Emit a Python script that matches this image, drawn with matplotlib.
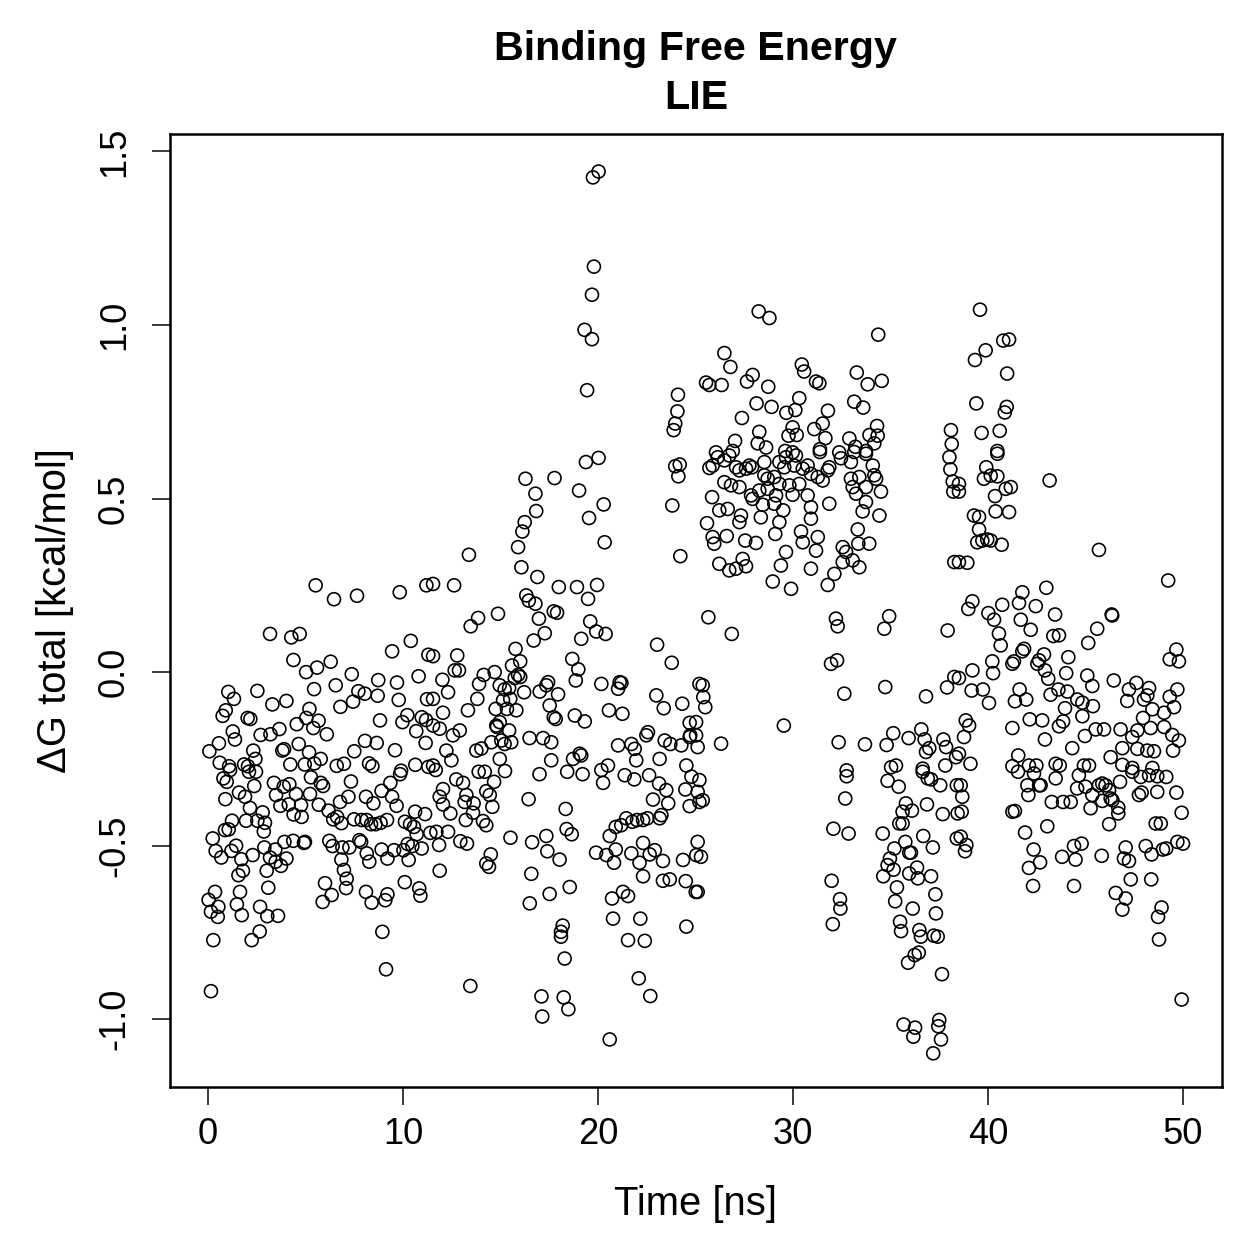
import matplotlib.pyplot as plt
import numpy as np

plt.rcParams["font.family"] = ["Liberation Sans", "DejaVu Sans"]

# (time [ns], dG total [kcal/mol]), grouped by time window
pts_0_12 = [
    (5.52, 0.25), (6.46, 0.21), (7.64, 0.22), (9.83, 0.23), (11.2, 0.25), (3.18, 0.11), (4.27, 0.10),
    (4.7, 0.11), (10.4, 0.09), (9.44, 0.06), (11.3, 0.05), (4.38, 0.035), (5.03, 0.0), (5.59, 0.013),
    (6.29, 0.03), (7.37, -0.006), (8.73, -0.023), (9.69, -0.03), (10.8, -0.012), (1.04, -0.057),
    (1.33, -0.077), (2.53, -0.054), (5.44, -0.049), (6.55, -0.038), (3.3, -0.093), (4.02, -0.083),
    (0.91, -0.11), (0.75, -0.126), (2.03, -0.132), (2.17, -0.135), (5.2, -0.106), (5.04, -0.132),
    (5.67, -0.14), (5.4, -0.161), (6.79, -0.10), (7.44, -0.085), (7.71, -0.055), (8.04, -0.062),
    (8.7, -0.068), (9.78, -0.08), (8.82, -0.139), (11.23, -0.078), (1.27, -0.171), (1.38, -0.194),
    (0.56, -0.205), (0.07, -0.228), (2.7, -0.181), (3.2, -0.179), (3.66, -0.164), (4.55, -0.15),
    (6.09, -0.179), (4.65, -0.207), (5.18, -0.231), (5.78, -0.25), (5.45, -0.263), (3.81, -0.226),
    (3.9, -0.222), (2.32, -0.226), (2.43, -0.25), (0.6, -0.261), (1.08, -0.271), (1.85, -0.266),
    (2.05, -0.271), (4.22, -0.266), (4.96, -0.266), (7.5, -0.228), (8.05, -0.198), (8.65, -0.204),
    (9.59, -0.225), (9.97, -0.144), (10.22, -0.124), (10.96, -0.13), (11.18, -0.138), (10.68, -0.17),
    (11.16, -0.204), (6.6, -0.27), (6.97, -0.264), (8.26, -0.263), (8.43, -0.271), (9.9, -0.284),
    (10.63, -0.267), (11.3, -0.273),
    (0.79, -0.306), (0.96, -0.316), (1.13, -0.282), (2.1, -0.287), (2.46, -0.287), (2.37, -0.328),
    (0.89, -0.366), (1.59, -0.347), (1.9, -0.359), (2.15, -0.391), (2.8, -0.404), (1.23, -0.428),
    (1.95, -0.428), (0.87, -0.455), (1.06, -0.453), (2.53, -0.428), (2.92, -0.434), (2.86, -0.459),
    (0.24, -0.479), (0.39, -0.515), (0.68, -0.534), (1.2, -0.515), (1.44, -0.5), (1.71, -0.539),
    (2.29, -0.527), (1.56, -0.585), (1.79, -0.572), (0.36, -0.633), (0.03, -0.656), (0.15, -0.69),
    (0.53, -0.676), (0.5, -0.705), (1.64, -0.633), (1.48, -0.669), (1.73, -0.7), (0.27, -0.772),
    (0.15, -0.919), (2.65, -0.747), (2.24, -0.772), (2.67, -0.676), (3.04, -0.703), (3.59, -0.702),
    (3.09, -0.621), (2.89, -0.505), (3.18, -0.534), (3.47, -0.546), (3.01, -0.572), (4.02, -0.537),
    (3.74, -0.558), (3.45, -0.511), (3.92, -0.489), (4.37, -0.486), (4.92, -0.492), (4.97, -0.489),
    (3.38, -0.319), (3.88, -0.33), (4.17, -0.323), (3.49, -0.354), (3.71, -0.385), (4.14, -0.381),
    (4.51, -0.351), (4.77, -0.383), (4.39, -0.41), (4.8, -0.417), (5.28, -0.303), (5.78, -0.319),
    (5.9, -0.328), (5.23, -0.351), (5.68, -0.382), (6.18, -0.399), (6.62, -0.417), (6.84, -0.435),
    (6.42, -0.424), (6.77, -0.374), (7.2, -0.359), (7.33, -0.315), (6.22, -0.486), (6.39, -0.501),
    (6.89, -0.505), (7.25, -0.505), (6.84, -0.54), (6.97, -0.57), (7.11, -0.595), (7.08, -0.622),
    (6.0, -0.608), (6.34, -0.642), (5.88, -0.662), (7.76, -0.484), (7.85, -0.489), (7.49, -0.424),
    (7.88, -0.426), (8.13, -0.426), (8.36, -0.438), (8.59, -0.438), (8.85, -0.434), (9.18, -0.426),
    (8.1, -0.359), (8.48, -0.378), (8.9, -0.342), (9.44, -0.359), (9.67, -0.385), (9.35, -0.319),
    (9.85, -0.294), (8.14, -0.522), (8.27, -0.546), (8.9, -0.511), (9.2, -0.537), (9.54, -0.513),
    (10.02, -0.513), (10.29, -0.541), (8.1, -0.633), (8.39, -0.664), (9.09, -0.657), (9.2, -0.64),
    (8.94, -0.748), (9.13, -0.856), (10.09, -0.605), (10.83, -0.623), (10.89, -0.644), (10.1, -0.431),
    (10.36, -0.438), (10.62, -0.402), (10.56, -0.446), (10.7, -0.467), (11.13, -0.409), (10.24, -0.495),
    (10.48, -0.501), (10.96, -0.508), (11.4, -0.463),
]

pts_12_25 = [
    (19.38, 0.605), (20.03, 0.617), (23.96, 0.593), (24.19, 0.598), (24.12, 0.564), (23.81, 0.48),
    (24.22, 0.334), (16.28, 0.557), (17.77, 0.559), (16.79, 0.514), (16.83, 0.464), (16.24, 0.432),
    (16.12, 0.405), (15.9, 0.36), (16.07, 0.302), (16.89, 0.274), (19.03, 0.523), (19.54, 0.444),
    (20.29, 0.483), (20.34, 0.374), (13.38, 0.338), (11.54, 0.254), (12.62, 0.25), (17.99, 0.245),
    (18.92, 0.245), (19.95, 0.251), (19.49, 0.211), (16.32, 0.221), (16.45, 0.206), (16.79, 0.197),
    (17.73, 0.175), (17.9, 0.171), (16.97, 0.154), (17.27, 0.112), (16.7, 0.091), (19.6, 0.146),
    (19.91, 0.117), (20.39, 0.11), (19.14, 0.096), (14.87, 0.168), (13.85, 0.156), (13.47, 0.132),
    (23.03, 0.079), (23.78, 0.027), (15.77, 0.067), (16.01, 0.031), (15.59, 0.019), (15.9, -0.008),
    (15.73, -0.017), (16.01, -0.014), (16.21, -0.058), (11.54, 0.046), (12.78, 0.048), (12.65, 0.005),
    (12.87, 0.005), (12.02, -0.022), (12.31, -0.058), (12.05, -0.117), (11.54, -0.077), (14.14, -0.008),
    (14.7, 0.0), (13.9, -0.034), (13.81, -0.077), (13.33, -0.11), (14.96, -0.038), (15.21, -0.05),
    (15.44, -0.046), (15.5, -0.077), (15.13, -0.081), (14.75, -0.106), (15.33, -0.106), (15.81, -0.11),
    (14.96, -0.144), (14.82, -0.158), (15.44, -0.168), (17.44, -0.029), (17.35, -0.038), (17.01, -0.056),
    (17.95, -0.064), (17.52, -0.096), (17.73, -0.13), (17.83, -0.135), (18.68, 0.038), (18.99, 0.008),
    (18.86, -0.024), (20.17, -0.034), (21.11, -0.029), (21.03, -0.048), (21.2, -0.031), (18.81, -0.125),
    (19.32, -0.142), (20.56, -0.11), (21.25, -0.12), (22.99, -0.067), (23.37, -0.104), (24.32, -0.091),
    (24.7, -0.146), (24.73, -0.182), (11.54, -0.154), (11.88, -0.163), (12.56, -0.182), (12.91, -0.168),
    (12.22, -0.226), (12.48, -0.254), (11.54, -0.269), (14.53, -0.202), (14.78, -0.154), (15.04, -0.197),
    (15.21, -0.207), (15.55, -0.202), (16.49, -0.19), (17.18, -0.19), (17.6, -0.202), (17.6, -0.254),
    (14.96, -0.25), (13.76, -0.226), (14.02, -0.22), (18.72, -0.25), (19.06, -0.235), (19.14, -0.24),
    (20.51, -0.269), (21.03, -0.211), (21.71, -0.207), (21.88, -0.221), (21.96, -0.254), (22.48, -0.182),
    (22.56, -0.173), (23.16, -0.25), (23.42, -0.197), (23.71, -0.207), (24.27, -0.211), (24.7, -0.187),
    (24.53, -0.269),
    (20.03, 1.442), (19.74, 1.425), (19.79, 1.168), (19.69, 1.087), (19.31, 0.986), (19.69, 0.959),
    (19.44, 0.812), (24.1, 0.799), (24.07, 0.751), (23.96, 0.716), (23.88, 0.697),
    (11.68, -0.282), (12.73, -0.309), (13.08, -0.319), (13.88, -0.287), (14.19, -0.287), (15.23, -0.285),
    (17.0, -0.294), (18.42, -0.287), (19.21, -0.294), (20.17, -0.282), (12.05, -0.337), (11.88, -0.359),
    (12.05, -0.381), (12.43, -0.407), (11.71, -0.46), (12.31, -0.46), (11.85, -0.498), (12.94, -0.487),
    (13.28, -0.494), (11.88, -0.572), (13.25, -0.354), (13.62, -0.378), (13.16, -0.374), (13.59, -0.405),
    (13.22, -0.426), (14.27, -0.343), (14.45, -0.354), (14.67, -0.316), (14.58, -0.388), (14.1, -0.429),
    (14.27, -0.441), (14.5, -0.525), (14.27, -0.551), (14.41, -0.561), (15.51, -0.477), (16.44, -0.366),
    (16.62, -0.49), (16.58, -0.581), (16.5, -0.666), (13.45, -0.904), (17.35, -0.472), (17.4, -0.516),
    (18.03, -0.54), (17.52, -0.639), (18.55, -0.619), (18.34, -0.394), (18.39, -0.452), (18.65, -0.467),
    (18.19, -0.73), (18.1, -0.748), (18.1, -0.762), (18.29, -0.825), (17.1, -0.934), (17.14, -0.992),
    (18.24, -0.937), (18.48, -0.971), (20.6, -1.058), (19.9, -0.52), (20.43, -0.527), (20.6, -0.472),
    (20.91, -0.511), (20.82, -0.549), (20.91, -0.446), (21.19, -0.441), (21.45, -0.421), (21.76, -0.431),
    (22.0, -0.426), (22.31, -0.426), (22.53, -0.421), (20.72, -0.652), (20.77, -0.71), (21.28, -0.633),
    (21.54, -0.645), (22.17, -0.71), (21.54, -0.772), (22.4, -0.774), (22.09, -0.882), (22.68, -0.933),
    (21.71, -0.522), (22.13, -0.549), (22.31, -0.492), (22.65, -0.525), (22.91, -0.513), (23.33, -0.544),
    (22.31, -0.588), (23.33, -0.601), (23.68, -0.597), (24.5, -0.602), (25.01, -0.633), (24.53, -0.733),
    (20.26, -0.319), (21.37, -0.297), (21.86, -0.309), (22.62, -0.297), (23.13, -0.321), (23.5, -0.34),
    (22.82, -0.367), (23.6, -0.378), (23.25, -0.412), (23.16, -0.421), (24.48, -0.338), (24.7, -0.386),
    (24.79, -0.301), (24.36, -0.541), (25.04, -0.527),
]

pts_25_38 = [
    (28.24, 1.039), (28.79, 1.02), (34.37, 0.972), (26.48, 0.919), (26.79, 0.879), (25.54, 0.834),
    (25.71, 0.827), (26.34, 0.827), (27.64, 0.837), (27.93, 0.856), (28.73, 0.822), (30.45, 0.886),
    (30.57, 0.866), (31.18, 0.837), (31.35, 0.832), (33.27, 0.863), (33.83, 0.829), (34.55, 0.839),
    (28.13, 0.774), (28.9, 0.764), (27.38, 0.732), (29.66, 0.747), (30.12, 0.755), (30.32, 0.789),
    (31.79, 0.753), (33.14, 0.779), (33.6, 0.762), (28.27, 0.692), (28.19, 0.659), (28.62, 0.647),
    (27.03, 0.666), (26.91, 0.637), (26.05, 0.633), (29.77, 0.681), (30.19, 0.683), (29.98, 0.705),
    (31.09, 0.7), (31.52, 0.716), (31.66, 0.674), (31.38, 0.642), (32.89, 0.673), (33.2, 0.649),
    (33.92, 0.683), (34.31, 0.709), (34.34, 0.681), (34.17, 0.659), (29.6, 0.637), (29.98, 0.633),
    (32.37, 0.633), (33.74, 0.637),
    (25.71, 0.588), (25.88, 0.595), (26.14, 0.619), (26.48, 0.61), (26.73, 0.624), (27.08, 0.59),
    (27.25, 0.581), (27.59, 0.586), (27.76, 0.595), (27.9, 0.59), (28.53, 0.605), (28.53, 0.567),
    (28.7, 0.557), (29.04, 0.562), (29.3, 0.605), (29.55, 0.59), (29.64, 0.619), (30.07, 0.595),
    (30.15, 0.624), (30.5, 0.586), (30.75, 0.595), (30.92, 0.571), (31.27, 0.562), (31.52, 0.552),
    (31.78, 0.581), (31.86, 0.59), (31.38, 0.634), (32.46, 0.616), (32.97, 0.605), (33.14, 0.634),
    (33.74, 0.629), (34.09, 0.595), (34.17, 0.567), (34.26, 0.557), (33.74, 0.533), (33.4, 0.562),
    (32.97, 0.557), (33.06, 0.533), (33.23, 0.514), (34.51, 0.52), (33.74, 0.49), (33.57, 0.463),
    (34.43, 0.451), (33.32, 0.411), (33.91, 0.37), (33.35, 0.37), (32.55, 0.36), (32.72, 0.346),
    (33.06, 0.322), (33.4, 0.302), (32.55, 0.317), (32.12, 0.283), (31.78, 0.251), (30.92, 0.298),
    (31.18, 0.35), (31.27, 0.389), (30.5, 0.374), (30.41, 0.405), (30.92, 0.442), (30.92, 0.475),
    (30.75, 0.509), (29.98, 0.511), (30.32, 0.542), (29.81, 0.538), (29.3, 0.542), (29.13, 0.509),
    (29.04, 0.485), (29.5, 0.466), (29.3, 0.432), (29.09, 0.398), (29.64, 0.346), (29.38, 0.307),
    (28.96, 0.261), (29.9, 0.24), (28.35, 0.446), (28.45, 0.482), (27.93, 0.499), (27.85, 0.509),
    (28.7, 0.528), (28.27, 0.523), (27.33, 0.451), (27.25, 0.432), (26.65, 0.47), (26.22, 0.466),
    (25.85, 0.504), (25.59, 0.429), (25.88, 0.389), (25.96, 0.37), (26.6, 0.392), (27.55, 0.379),
    (28.1, 0.372), (27.42, 0.326), (27.59, 0.305), (27.08, 0.298), (26.73, 0.293), (26.22, 0.312),
    (26.48, 0.547), (26.82, 0.538), (27.25, 0.533), (31.86, 0.485),
    (25.66, 0.158), (26.86, 0.11), (32.2, 0.154), (32.29, 0.132), (34.93, 0.161), (34.68, 0.125),
    (31.95, 0.024), (32.26, 0.034), (25.37, -0.038), (25.4, -0.072), (25.5, -0.101), (25.2, -0.034),
    (29.53, -0.154), (32.63, -0.062), (34.73, -0.043), (36.82, -0.07), (37.9, -0.044), (38.27, -0.014),
    (25.03, -0.144), (25.03, -0.182), (25.11, -0.216), (26.31, -0.206), (32.34, -0.202), (33.69, -0.208),
    (34.8, -0.21), (35.14, -0.176), (35.93, -0.19), (36.58, -0.165), (36.75, -0.194), (36.99, -0.219),
    (36.82, -0.23), (37.71, -0.194), (37.85, -0.216), (38.36, -0.245), (37.81, -0.269), (35.28, -0.269),
    (35.03, -0.274), (36.65, -0.278), (32.75, -0.283),
    (25.2, -0.311), (25.11, -0.345), (25.37, -0.369), (25.2, -0.374), (25.11, -0.489), (25.28, -0.532),
    (25.11, -0.633), (32.75, -0.3), (32.68, -0.364), (32.07, -0.451), (32.85, -0.465), (31.98, -0.601),
    (32.41, -0.654), (32.43, -0.681), (32.04, -0.726), (34.85, -0.313), (35.42, -0.33), (34.6, -0.465),
    (35.45, -0.436), (35.62, -0.436), (35.79, -0.378), (36.1, -0.399), (35.62, -0.402), (35.76, -0.489),
    (35.96, -0.52), (36.05, -0.52), (35.2, -0.508), (34.97, -0.537), (34.85, -0.556), (35.16, -0.569),
    (34.63, -0.588), (35.96, -0.58), (36.36, -0.563), (36.4, -0.594), (37.08, -0.588), (36.68, -0.472),
    (37.17, -0.505), (36.87, -0.381), (37.68, -0.409), (37.55, -0.326), (37.08, -0.309), (36.91, -0.306),
    (36.65, -0.287), (35.33, -0.62), (35.24, -0.66), (36.14, -0.681), (37.3, -0.64), (37.33, -0.695),
    (35.49, -0.719), (35.54, -0.746), (36.48, -0.743), (36.56, -0.762), (37.22, -0.759), (37.42, -0.762),
    (36.45, -0.808), (36.24, -0.815), (35.9, -0.837), (37.64, -0.87), (35.67, -1.015), (36.26, -1.024),
    (36.17, -1.05), (37.5, -1.002), (37.45, -1.02), (37.59, -1.058), (37.19, -1.098), (38.4, -0.326),
    (38.44, -0.407), (38.4, -0.479),
]

pts_38_50 = [
    (38.02, 0.619), (38.07, 0.584), (38.19, 0.549), (38.22, 0.52), (38.27, 0.317), (37.93, 0.12),
    (38.1, 0.697), (38.14, 0.657), (39.59, 1.044), (39.88, 0.927), (39.33, 0.899), (40.78, 0.955),
    (41.08, 0.958), (40.98, 0.86), (39.4, 0.774), (40.96, 0.764), (40.86, 0.748), (39.67, 0.689),
    (40.6, 0.695), (40.48, 0.637),
    (40.48, 0.629), (39.91, 0.59), (39.79, 0.557), (40.14, 0.566), (40.48, 0.564), (40.91, 0.528),
    (41.17, 0.533), (40.36, 0.507), (40.39, 0.463), (41.08, 0.461), (39.28, 0.451), (39.54, 0.447),
    (39.54, 0.411), (39.45, 0.374), (39.71, 0.379), (39.96, 0.382), (40.14, 0.379), (40.7, 0.367),
    (38.94, 0.315), (38.51, 0.317), (38.51, 0.542), (38.51, 0.52), (43.16, 0.552), (45.69, 0.352),
    (49.24, 0.264), (42.99, 0.243), (41.76, 0.23), (41.59, 0.199), (42.45, 0.19), (43.44, 0.166),
    (41.68, 0.151), (42.19, 0.122), (40.73, 0.194), (39.2, 0.204), (38.99, 0.182), (40.02, 0.17),
    (40.31, 0.151), (40.56, 0.111), (40.65, 0.077), (43.35, 0.104), (43.64, 0.106), (45.14, 0.084),
    (45.6, 0.125), (46.37, 0.163), (46.34, 0.166), (41.85, 0.067), (41.76, 0.06), (41.25, 0.024),
    (41.33, 0.031), (42.62, 0.034), (42.53, 0.024), (42.87, 0.051), (42.92, 0.005), (43.09, -0.019),
    (44.12, 0.043), (44.01, -0.003), (45.09, -0.01), (45.35, -0.04), (46.45, -0.024),
    (39.2, 0.005), (38.51, -0.017), (40.22, 0.031), (40.26, -0.003), (39.16, -0.053), (39.74, -0.05),
    (40.05, -0.089), (41.62, -0.05), (41.38, -0.084), (41.96, -0.079), (43.21, -0.065), (43.61, -0.05),
    (44.07, -0.056), (44.58, -0.079), (44.84, -0.088), (45.38, -0.098), (43.95, -0.104), (44.84, -0.127),
    (47.23, -0.05), (47.61, -0.031), (48.26, -0.046), (48.17, -0.067), (48.0, -0.079), (47.14, -0.083),
    (49.66, 0.065), (49.32, 0.037), (49.79, 0.031), (49.71, -0.05), (49.32, -0.071), (49.54, -0.101),
    (49.03, -0.117), (48.43, -0.107), (47.95, -0.132), (48.34, -0.161), (49.03, -0.158), (49.45, -0.181),
    (49.79, -0.197), (49.49, -0.226), (48.51, -0.228), (48.17, -0.226), (47.66, -0.221), (47.4, -0.187),
    (47.66, -0.168), (46.8, -0.165), (46.89, -0.219), (46.29, -0.245), (45.95, -0.165), (45.52, -0.165),
    (44.97, -0.184), (44.32, -0.219), (43.85, -0.142), (43.64, -0.156), (42.92, -0.194), (42.78, -0.139),
    (42.14, -0.136), (41.25, -0.161), (41.55, -0.24), (41.25, -0.271), (42.1, -0.269), (42.48, -0.269),
    (43.47, -0.264), (43.68, -0.269), (44.92, -0.269), (45.18, -0.269), (46.89, -0.267), (47.4, -0.276),
    (48.43, -0.276), (39.1, -0.264), (38.51, -0.235), (38.77, -0.187), (38.86, -0.139), (39.03, -0.154),
    (38.6, -0.326), (38.68, -0.359), (38.65, -0.402), (38.6, -0.474), (38.89, -0.498), (38.82, -0.516),
    (41.25, -0.402), (41.38, -0.4), (41.9, -0.462), (43.04, -0.444), (42.34, -0.511), (42.67, -0.548),
    (42.1, -0.564), (42.31, -0.616), (41.54, -0.287), (42.36, -0.292), (42.02, -0.326), (42.62, -0.326),
    (42.7, -0.326), (42.07, -0.354), (43.27, -0.374), (43.47, -0.306), (43.85, -0.374), (44.24, -0.374),
    (44.41, -0.616), (43.8, -0.532), (44.49, -0.54), (44.41, -0.501), (44.8, -0.494), (45.83, -0.529),
    (44.57, -0.335), (45.0, -0.33), (45.26, -0.392), (44.66, -0.297), (45.35, -0.354), (45.69, -0.326),
    (45.86, -0.321), (46.03, -0.326), (46.21, -0.34), (46.29, -0.364), (45.86, -0.371), (46.38, -0.369),
    (46.68, -0.39), (46.68, -0.407), (46.21, -0.438), (46.77, -0.316), (47.06, -0.505), (46.97, -0.537),
    (47.23, -0.544), (47.32, -0.597), (46.55, -0.636), (47.06, -0.652), (46.89, -0.684), (47.74, -0.354),
    (47.88, -0.347), (48.68, -0.345), (48.6, -0.436), (48.86, -0.436), (49.66, -0.347), (49.93, -0.405),
    (48.09, -0.501), (48.39, -0.525), (48.37, -0.597), (48.97, -0.511), (49.14, -0.508), (49.71, -0.489),
    (50.0, -0.494), (48.9, -0.678), (48.72, -0.705), (48.77, -0.77), (49.93, -0.943), (47.4, -0.287),
    (47.83, -0.302), (48.26, -0.297), (48.68, -0.3), (49.14, -0.302),
]

xticks = [0, 10, 20, 30, 40, 50]
yticks = [-1.0, -0.5, 0.0, 0.5, 1.0, 1.5]

pts = np.array(pts_0_12 + pts_12_25 + pts_25_38 + pts_38_50)
time = pts[:, 0]
dg = pts[:, 1]

fig = plt.figure(figsize=(1259 / 180, 1259 / 180), dpi=180)
ax = fig.add_axes([170 / 1259, 1 - 1087 / 1259, (1222 - 170) / 1259, (1087 - 134) / 1259])

ax.scatter(time, dg, s=27, facecolors="none", edgecolors="black", linewidths=0.65)

ax.set_xlim(-1.95, 52.0)
ax.set_ylim(-1.195, 1.55)
ax.set_xticks(xticks)
ax.set_yticks(yticks)
ax.set_xticklabels([str(v) for v in xticks])
ax.set_yticklabels(["%.1f" % v for v in yticks])
ax.tick_params(direction="out", length=7.2, width=0.6, labelsize=14.5)
ax.tick_params(axis="x", pad=5)
ax.tick_params(axis="y", pad=8, labelrotation=90)
for lbl in ax.get_yticklabels():
    lbl.set_verticalalignment("center")
for sp in ax.spines.values():
    sp.set_linewidth(1.0)

ax.set_xlabel("Time [ns]", fontsize=16, labelpad=13)
ax.set_ylabel("ΔG total [kcal/mol]", fontsize=16, labelpad=9)
ax.set_title("Binding Free Energy\nLIE", fontsize=16.5, fontweight="bold", pad=10, linespacing=1.35)

fig.savefig("out.png", dpi=180)
